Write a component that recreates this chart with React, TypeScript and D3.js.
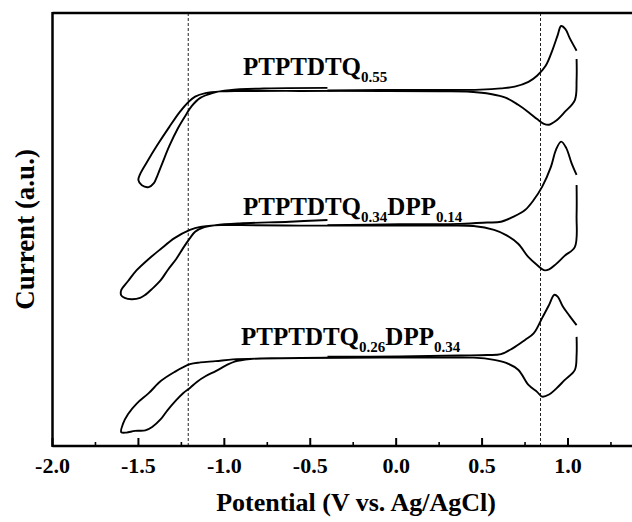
import * as d3 from "d3";

// potential (V) / current (a.u.); each scan is split at the
// switching potential where the recorder leaves a small gap
type Pt = [number, number];

const xMajorTicks = [-2.0, -1.5, -1.0, -0.5, 0.0, 0.5, 1.0];
const xMinorTicks = [-1.75, -1.25, -0.75, -0.25, 0.25, 0.75, 1.25];
const onsetLines = [-1.21, 0.84];

// PTPTDTQ0.55
const q55Forward: Pt[] = [
  [-0.4, 82.1], [-0.09, 82.2], [0.26, 82.2], [0.49, 82.3], [0.61, 82.6],
  [0.69, 83.0], [0.77, 84.1], [0.82, 85.5], [0.87, 87.8], [0.91, 91.5],
  [0.94, 94.9], [0.96, 97.0], [0.985, 96.3], [1.01, 94.2], [1.05, 91.3],
];
const q55Return: Pt[] = [
  [1.05, 89.4], [1.05, 84.5], [1.04, 79.9], [0.98, 77.1], [0.93, 75.1],
  [0.89, 74.2], [0.86, 74.4], [0.82, 75.5], [0.77, 77.1], [0.71, 78.8],
  [0.64, 80.4], [0.55, 81.3], [0.43, 81.8], [0.26, 81.9], [-0.09, 82.0],
  [-0.56, 82.0], [-0.91, 82.0], [-1.02, 81.9], [-1.11, 81.5], [-1.17, 80.7],
  [-1.21, 79.4], [-1.26, 77.1], [-1.32, 73.7], [-1.39, 69.5], [-1.45, 65.6],
  [-1.49, 62.8], [-1.5, 61.4], [-1.48, 60.2], [-1.44, 59.8], [-1.41, 60.7],
  [-1.39, 62.4], [-1.36, 65.4], [-1.32, 69.3], [-1.27, 73.4], [-1.22, 76.7],
  [-1.19, 78.5], [-1.14, 80.4], [-1.07, 81.5], [-0.97, 82.2], [-0.73, 82.6],
  [-0.4, 82.7],
];

// PTPTDTQ0.34DPP0.14
const q34Forward: Pt[] = [
  [-0.4, 51.0], [0.02, 51.2], [0.37, 51.3], [0.53, 51.6], [0.61, 51.8],
  [0.68, 52.9], [0.75, 54.5], [0.8, 56.8], [0.85, 59.9], [0.9, 64.4],
  [0.93, 68.4], [0.96, 70.3], [0.99, 68.8], [1.02, 65.4], [1.05, 62.6],
];
const q34Return: Pt[] = [
  [1.05, 60.3], [1.05, 53.3], [1.04, 46.0], [0.98, 43.9], [0.93, 42.0],
  [0.89, 40.8], [0.86, 40.6], [0.82, 41.8], [0.77, 43.6], [0.71, 46.7],
  [0.64, 48.7], [0.57, 49.9], [0.45, 50.8], [0.26, 50.9], [-0.09, 50.9],
  [-0.56, 50.9], [-0.91, 51.0], [-1.02, 51.0], [-1.14, 50.6], [-1.2, 49.9],
  [-1.29, 48.0], [-1.37, 45.5], [-1.44, 43.2], [-1.51, 40.6], [-1.56, 38.1],
  [-1.6, 36.0], [-1.6, 34.8], [-1.58, 34.2], [-1.54, 33.9], [-1.49, 34.2],
  [-1.46, 34.9], [-1.42, 36.3], [-1.37, 38.3], [-1.33, 40.6], [-1.28, 43.2],
  [-1.24, 45.7], [-1.2, 48.0], [-1.17, 49.5], [-1.12, 50.5], [-1.05, 51.0],
  [-0.91, 51.4], [-0.62, 51.8], [-0.4, 52.2],
];

// PTPTDTQ0.26DPP0.34
const q26Forward: Pt[] = [
  [-0.4, 20.6], [0.02, 20.7], [0.37, 20.9], [0.53, 21.0], [0.61, 21.2],
  [0.68, 22.6], [0.75, 24.5], [0.8, 26.0], [0.85, 29.6], [0.89, 32.6],
  [0.92, 34.9], [0.94, 34.5], [0.97, 32.2], [1.01, 30.0], [1.05, 27.9],
];
const q26Return: Pt[] = [
  [1.05, 25.2], [1.05, 21.0], [1.04, 17.6], [0.98, 15.2], [0.93, 13.2],
  [0.89, 11.9], [0.85, 11.4], [0.82, 12.5], [0.77, 14.1], [0.71, 17.6],
  [0.64, 19.2], [0.57, 19.9], [0.45, 20.4], [0.26, 20.4], [-0.09, 20.4],
  [-0.56, 20.3], [-0.79, 20.2], [-0.95, 20.0], [-1.05, 19.6], [-1.14, 19.3],
  [-1.2, 18.9], [-1.29, 17.1], [-1.37, 15.0], [-1.44, 12.2], [-1.51, 9.8],
  [-1.56, 7.4], [-1.59, 5.1], [-1.6, 3.2], [-1.57, 3.1], [-1.52, 3.5],
  [-1.46, 3.6], [-1.42, 4.4], [-1.37, 6.2], [-1.33, 8.3], [-1.28, 10.6],
  [-1.24, 12.2], [-1.2, 13.4], [-1.16, 14.8], [-1.11, 16.1], [-1.05, 17.3],
  [-0.99, 18.6], [-0.94, 19.5], [-0.85, 20.1], [-0.67, 20.3], [-0.4, 20.4],
];

const scans = [q55Forward, q55Return, q34Forward, q34Return, q26Forward, q26Return];

// [text, isSubscript]
const label55: [string, boolean][] = [["PTPTDTQ", false], ["0.55", true]];
const label34: [string, boolean][] = [["PTPTDTQ", false], ["0.34", true], ["DPP", false], ["0.14", true]];
const label26: [string, boolean][] = [["PTPTDTQ", false], ["0.26", true], ["DPP", false], ["0.34", true]];

const width = 632;
const height = 522;
const margin = { top: 13, left: 52.5, bottom: 76 };
const font = "'Liberation Serif', 'Times New Roman', serif";

function Label({ parts, x, y }: { parts: [string, boolean][]; x: number; y: number }) {
  let prevSub = false;
  return (
    <text x={x} y={y} fontFamily={font} fontWeight="bold" fontSize={25}>
      {parts.map(([t, sub], i) => {
        const dy = sub === prevSub ? 0 : sub ? 7 : -7;
        prevSub = sub;
        return (
          <tspan key={i} dy={dy} fontSize={sub ? 15 : 25}>
            {t}
          </tspan>
        );
      })}
    </text>
  );
}

export default function App() {
  const x = d3.scaleLinear().domain([-2, 1]).range([margin.left, 568]);
  const y = d3.scaleLinear().domain([0, 100]).range([height - margin.bottom, margin.top]);
  const x0 = x(-2);
  const yBottom = y(0);
  const yTop = y(100);

  const line = d3
    .line<Pt>()
    .x((d) => x(d[0]))
    .y((d) => y(d[1]))
    .curve(d3.curveCatmullRom.alpha(0.5));

  return (
    <svg width={width} height={height} style={{ position: "absolute", left: 0, top: 0, background: "#fff" }}>
      {/* dashed onset markers */}
      {onsetLines.map((v) => (
        <line key={v} x1={x(v)} x2={x(v)} y1={yTop} y2={yBottom} stroke="#222" strokeWidth={1} strokeDasharray="3,2" />
      ))}

      {scans.map((s, i) => (
        <path key={i} d={line(s) ?? ""} fill="none" stroke="#000" strokeWidth={1.9} strokeLinejoin="round" />
      ))}

      {/* frame: left and top, bottom axis (figure is cropped on the right) */}
      <line x1={x0} x2={x0} y1={yTop - 1} y2={yBottom + 1} stroke="#000" strokeWidth={2.5} />
      <line x1={x0} x2={width} y1={yTop} y2={yTop} stroke="#000" strokeWidth={2.5} />
      <line x1={x0} x2={width} y1={yBottom} y2={yBottom} stroke="#000" strokeWidth={2.5} />

      {xMajorTicks.map((v) => (
        <g key={v} transform={`translate(${x(v)},${yBottom})`}>
          <line y1={0} y2={-8} stroke="#000" strokeWidth={2} />
          <text y={27} textAnchor="middle" fontFamily={font} fontWeight="bold" fontSize={22}>
            {v.toFixed(1)}
          </text>
        </g>
      ))}
      {xMinorTicks.map((v) => (
        <line key={v} x1={x(v)} x2={x(v)} y1={yBottom} y2={yBottom - 4} stroke="#000" strokeWidth={1.6} />
      ))}

      <Label parts={label55} x={243} y={75} />
      <Label parts={label34} x={243} y={215} />
      <Label parts={label26} x={241} y={345} />

      <text x={356} y={511} textAnchor="middle" fontFamily={font} fontWeight="bold" fontSize={26}>
        Potential (V vs. Ag/AgCl)
      </text>
      <text
        transform={`translate(34,${(yTop + yBottom) / 2}) rotate(-90)`}
        textAnchor="middle"
        fontFamily={font}
        fontWeight="bold"
        fontSize={27}
      >
        Current (a.u.)
      </text>
    </svg>
  );
}
